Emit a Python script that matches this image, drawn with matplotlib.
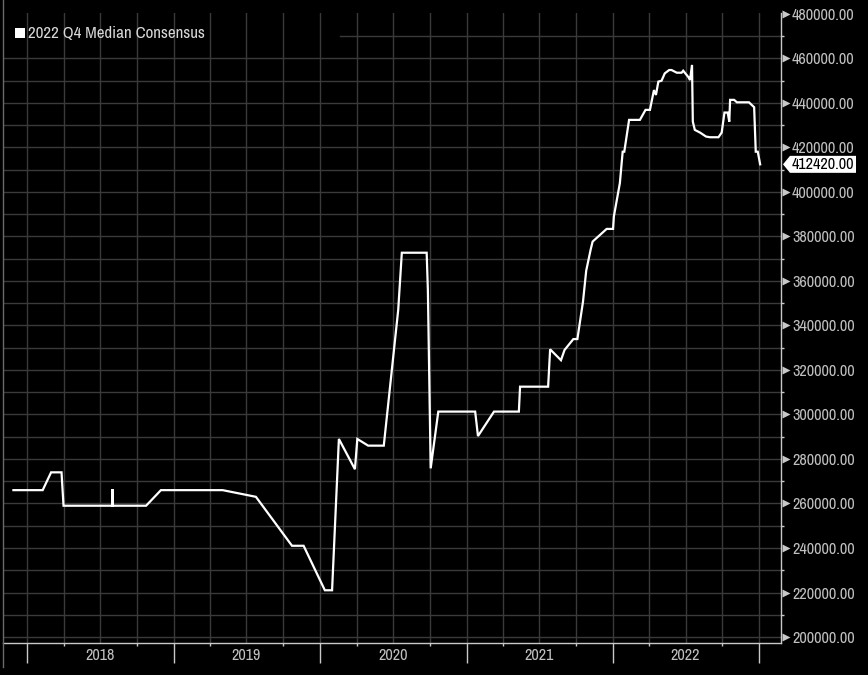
import matplotlib
matplotlib.use("Agg")
import matplotlib.pyplot as plt
import matplotlib.dates as mdates
import matplotlib.transforms as mtrans
from matplotlib.patches import Polygon, Rectangle
from matplotlib.lines import Line2D
import pandas as pd
import numpy as np

# ---------------- data ----------------
series_name = "2022 Q4 Median Consensus"
dates = [
    "2017-11-27", "2018-02-08", "2018-03-01", "2018-03-27", "2018-04-01",
    "2018-08-01", "2018-08-01", "2018-08-01", "2018-10-24", "2018-11-30",
    "2019-05-03", "2019-07-25", "2019-10-23", "2019-11-21", "2020-01-13",
    "2020-01-31", "2020-02-17", "2020-03-28", "2020-04-03", "2020-04-30",
    "2020-06-08", "2020-07-14", "2020-07-23", "2020-09-23", "2020-09-26",
    "2020-10-03", "2020-10-22", "2021-01-22", "2021-01-29", "2021-03-10",
    "2021-05-11", "2021-05-14", "2021-07-23", "2021-07-28", "2021-08-24",
    "2021-09-02", "2021-09-24", "2021-10-04", "2021-10-18", "2021-10-26",
    "2021-11-06", "2021-11-11", "2021-12-16", "2022-01-01", "2022-01-03",
    "2022-01-18", "2022-01-25", "2022-01-29", "2022-02-10", "2022-03-09",
    "2022-03-23", "2022-04-03", "2022-04-13", "2022-04-18", "2022-04-24",
    "2022-05-02", "2022-05-10", "2022-05-21", "2022-05-27", "2022-06-09",
    "2022-06-21", "2022-06-25", "2022-07-08", "2022-07-12", "2022-07-17",
    "2022-07-19", "2022-07-24", "2022-08-06", "2022-08-21", "2022-08-31",
    "2022-09-21", "2022-09-29", "2022-10-06", "2022-10-14", "2022-10-18",
    "2022-10-20", "2022-10-30", "2022-11-06", "2022-12-06", "2022-12-13",
    "2022-12-19", "2022-12-23", "2022-12-28", "2023-01-03",
]
values = [
    266000, 266000, 274000, 274000, 259000,
    259000, 266500, 259000, 259000, 266000,
    266000, 263000, 241000, 241000, 221000,
    221000, 289000, 275400, 289000, 286000,
    286000, 347000, 372700, 372700, 356000,
    275800, 301300, 301300, 290300, 301300,
    301300, 312500, 312500, 329300, 324400,
    329000, 333900, 333900, 350700, 364600,
    374000, 377700, 383400, 383400, 389000,
    404000, 418100, 418100, 432400, 432400,
    436900, 436900, 445800, 443600, 449600,
    450000, 453300, 454800, 454800, 453600,
    453600, 454500, 451600, 450300, 457100,
    431600, 427900, 426700, 424900, 424600,
    424600, 426700, 435700, 435700, 431600,
    441400, 441400, 440300, 440300, 439100,
    438100, 418100, 418100, 412420,
]
year_labels = ["2018", "2019", "2020", "2021", "2022"]
last_label = "412420.00"

# ---------------- style ----------------
FONT = ["Archivo Narrow", "DejaVu Sans"]
plt.rcParams["font.family"] = FONT
BG = "#000000"
GRID = "#3a3a3a"
AXC = "#c8c8c8"
TXT = "#c0c0c0"
FS = 11.6

W, H = 868, 675
fig = plt.figure(figsize=(W / 100, H / 100), dpi=100, facecolor=BG)
L, R, T, B = 3, 781, 13.3, 643.3
ax = fig.add_axes([L / W, 1 - B / H, (R - L) / W, (B - T) / H], facecolor=BG)

x = pd.to_datetime(dates)
ax.plot(x, values, color="white", lw=1.6, solid_joinstyle="miter", zorder=5)

XLIM = (pd.Timestamp("2017-11-01"), pd.Timestamp("2023-02-24"))
YLIM = (197170, 480300)

# spines
for s in ["top", "left"]:
    ax.spines[s].set_visible(False)
for s in ["right", "bottom"]:
    ax.spines[s].set_color(AXC)
    ax.spines[s].set_linewidth(1.0)

# y axis on right
ax.yaxis.tick_right()
major_y = np.arange(200000, 480001, 20000)
minor_y = np.arange(210000, 480000, 20000)
ax.set_yticks(major_y)
ax.set_yticks(minor_y, minor=True)
ax.set_yticklabels([f"{v:.2f}" for v in major_y])
ax.tick_params(axis="y", which="major", length=0, pad=8, labelsize=FS,
               labelcolor=TXT)
ax.tick_params(axis="y", which="minor", length=2.5, width=1, color=AXC,
               direction="out")

# x axis: year ticks long, Apr/Oct short, labels at Jul
years = pd.date_range("2018-01-01", "2023-01-01", freq="YS")
quarters = pd.date_range("2018-01-01", "2023-01-01", freq="QS")
aprocts = [q for q in quarters if q.month in (4, 10)]
ax.set_xticks(years)
ax.set_xticks(aprocts, minor=True)
ax.set_xticklabels([])
ax.tick_params(axis="x", which="major", length=14.5, width=1, color=AXC,
               direction="out")
ax.tick_params(axis="x", which="minor", length=2.5, width=1, color=AXC,
               direction="out")

ax.set_xlim(*XLIM)
ax.set_ylim(*YLIM)

# grid
for v in np.arange(200000, 480000, 10000):
    if v == 470000:
        ax.axhline(v, xmin=(340 - L) / (R - L), color=GRID, lw=1, zorder=1)
    else:
        ax.axhline(v, color=GRID, lw=1, zorder=1)
for q in quarters:
    ax.axvline(q, color=GRID, lw=1, zorder=1)
ax.set_xlim(*XLIM)
ax.set_ylim(*YLIM)

# flag-like triangles at major y ticks
tri_tr = mtrans.blended_transform_factory(ax.transAxes, ax.transData) + \
    mtrans.ScaledTranslation(4.5 / 100, 0, fig.dpi_scale_trans)
for v in major_y:
    ax.plot([1.0], [v], marker=">", ms=6, color=AXC, mec="none",
            transform=tri_tr, clip_on=False, zorder=6)

lab_tr = mtrans.blended_transform_factory(ax.transData, ax.transAxes)
for yl in year_labels:
    ax.text(pd.Timestamp(f"{yl}-07-01"), -(655 - B) / (B - T), yl,
            transform=lab_tr, ha="center", va="center", fontsize=FS,
            color=TXT)

# legend
fig.patches.append(Rectangle((15 / W, 1 - 38 / H), 10 / W, 10 / H,
                             transform=fig.transFigure, facecolor="white",
                             edgecolor="none"))
fig.text(28 / W, 1 - 33 / H, series_name, ha="left", va="center",
         fontsize=12.2, color="#d8d8d8")

# left panel border line
fig.add_artist(Line2D([3 / W, 3 / W], [1 - 667 / H, 1.0], color="#6a6a6a",
                      lw=1, transform=fig.transFigure))

# last value tag
fig.canvas.draw()
xd = mdates.date2num(x[-1])
_, py = ax.transData.transform((xd, values[-1]))
px0 = ax.transAxes.transform((1, 0))[0]
hh = 8.5
poly = Polygon([(px0 + 2, py), (px0 + 9, py + hh), (px0 + 75, py + hh),
                (px0 + 75, py - hh), (px0 + 9, py - hh)], closed=True,
               facecolor="white", edgecolor="none", transform=None,
               clip_on=False, zorder=10)
fig.patches.append(poly)
fig.text((px0 + 11) / W, py / H, last_label, ha="left", va="center",
         fontsize=FS, color="black", zorder=11)

fig.savefig("out.png", dpi=100, facecolor=BG)
